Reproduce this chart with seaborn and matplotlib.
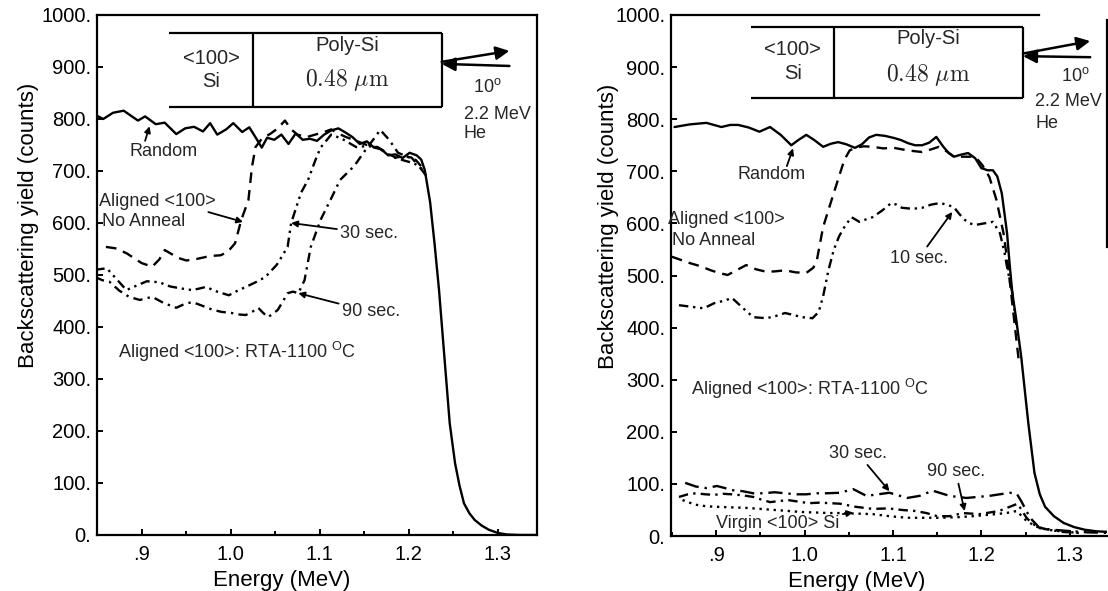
import matplotlib
matplotlib.use("Agg")
import matplotlib.pyplot as plt
import seaborn as sns
from matplotlib.ticker import FixedLocator, FuncFormatter, MultipleLocator

sns.set_theme(style="ticks")
plt.rcParams["font.family"] = ["Liberation Sans", "DejaVu Sans"]
plt.rcParams["mathtext.fontset"] = "custom"
plt.rcParams["mathtext.rm"] = "Liberation Sans"
plt.rcParams["mathtext.it"] = "Liberation Sans:italic"

# ---------------- data: energy (MeV) and yield (counts) ----------------
# Left panel (no anneal, 30 s and 90 s RTA)
L_random_e = [0.848, 0.857, 0.868, 0.880, 0.890, 0.896, 0.904, 0.916, 0.926, 0.939, 0.949,
              0.959, 0.969, 0.977, 0.985, 0.995, 1.003, 1.013, 1.021, 1.029, 1.035, 1.041,
              1.049, 1.057, 1.065, 1.073, 1.081, 1.089, 1.097, 1.105, 1.113, 1.121, 1.129,
              1.137, 1.145, 1.153, 1.161, 1.169, 1.177, 1.185, 1.193, 1.201, 1.209, 1.214,
              1.218, 1.224, 1.229, 1.234, 1.240, 1.246, 1.252, 1.257, 1.262, 1.268, 1.274,
              1.282, 1.290, 1.300, 1.310, 1.325, 1.344]
L_random_c = [808, 800, 812, 816, 804, 797, 805, 790, 793, 771, 782,
              785, 776, 792, 770, 780, 792, 775, 784, 762, 745, 764,
              760, 770, 752, 772, 760, 762, 758, 770, 778, 782, 774,
              765, 752, 757, 745, 742, 730, 732, 725, 735, 730, 722,
              702, 640, 560, 471, 343, 215, 138, 95, 61, 42, 29,
              18, 10, 4, 1, 0, 0]

L_noanneal_e = [0.860, 0.872, 0.884, 0.900, 0.912, 0.920, 0.926, 0.934, 0.941, 0.950, 0.957,
                0.965, 0.973, 0.981, 0.989, 0.997, 1.005, 1.012, 1.020, 1.024, 1.028, 1.035,
                1.045, 1.053, 1.061, 1.068, 1.075, 1.085, 1.095, 1.105, 1.113, 1.121, 1.130,
                1.141, 1.153, 1.165, 1.175, 1.185, 1.195, 1.203, 1.212, 1.220]
L_noanneal_c = [554, 551, 541, 523, 516, 530, 548, 540, 533, 528, 529,
                532, 535, 537, 538, 545, 561, 606, 644, 708, 746, 762,
                772, 782, 797, 780, 770, 765, 770, 775, 780, 772, 765,
                758, 750, 745, 735, 726, 728, 726, 708, 690]

L_30s_e = [0.848, 0.861, 0.872, 0.883, 0.895, 0.906, 0.920, 0.932, 0.945, 0.957, 0.965,
           0.972, 0.985, 0.998, 1.008, 1.017, 1.028, 1.039, 1.052, 1.064, 1.068, 1.079,
           1.087, 1.095, 1.101, 1.113, 1.125, 1.141, 1.153, 1.165, 1.182, 1.195, 1.206,
           1.218]
L_30s_c = [510, 513, 492, 471, 480, 488, 486, 478, 474, 471, 474,
           477, 468, 461, 470, 477, 486, 496, 520, 554, 600, 658,
           683, 720, 745, 770, 762, 746, 748, 746, 727, 720, 715,
           700]

L_90s_e = [0.848, 0.856, 0.864, 0.875, 0.886, 0.898, 0.905, 0.912, 0.925, 0.939, 0.948,
           0.957, 0.968, 0.980, 0.990, 1.001, 1.010, 1.017, 1.025, 1.031, 1.036, 1.042,
           1.048, 1.053, 1.059, 1.064, 1.070, 1.076, 1.083, 1.090, 1.101, 1.112, 1.123,
           1.139, 1.150, 1.160, 1.168, 1.178, 1.188, 1.198, 1.208, 1.216]
L_90s_c = [496, 490, 487, 470, 458, 452, 455, 458, 446, 437, 444,
           448, 441, 433, 429, 427, 424, 423, 430, 437, 428, 419,
           426, 433, 450, 465, 468, 465, 490, 554, 606, 644, 683,
           710, 737, 760, 779, 760, 735, 728, 721, 705]

# Right panel (no anneal, 10 s, 30 s, 90 s RTA and virgin crystal)
R_random_e = [0.853, 0.870, 0.889, 0.906, 0.916, 0.925, 0.937, 0.949, 0.961, 0.973, 0.985,
              0.993, 1.002, 1.011, 1.021, 1.030, 1.038, 1.047, 1.057, 1.065, 1.073, 1.081,
              1.091, 1.101, 1.109, 1.117, 1.125, 1.133, 1.141, 1.149, 1.157, 1.163, 1.169,
              1.177, 1.185, 1.193, 1.200, 1.207, 1.213, 1.218, 1.223, 1.226, 1.229, 1.232,
              1.235, 1.239, 1.245, 1.253, 1.260, 1.266, 1.272, 1.282, 1.293, 1.305, 1.317,
              1.330, 1.342]
R_random_c = [785, 790, 793, 785, 789, 789, 784, 776, 785, 770, 750,
              760, 770, 760, 747, 753, 756, 752, 745, 752, 765, 770,
              768, 764, 760, 754, 750, 750, 755, 766, 747, 735, 728,
              732, 735, 725, 706, 702, 702, 690, 658, 620, 581, 520,
              466, 420, 344, 217, 121, 80, 56, 38, 25, 17, 12,
              9, 8]

R_noanneal_e = [0.850, 0.860, 0.870, 0.882, 0.894, 0.903, 0.913, 0.923, 0.934, 0.945, 0.957,
                0.967, 0.978, 0.990, 1.002, 1.010, 1.014, 1.021, 1.033, 1.045, 1.051, 1.057,
                1.067, 1.077, 1.089, 1.101, 1.117, 1.133, 1.143, 1.152, 1.161, 1.169, 1.181,
                1.193, 1.201, 1.209, 1.217, 1.225, 1.230, 1.234, 1.238, 1.242]
R_noanneal_c = [536, 530, 524, 518, 510, 505, 501, 510, 520, 512, 507,
                508, 510, 506, 505, 515, 530, 593, 658, 722, 740, 745,
                748, 747, 744, 745, 740, 737, 742, 747, 738, 728, 728,
                728, 712, 689, 645, 581, 520, 460, 400, 340]

R_10s_e = [0.858, 0.872, 0.886, 0.898, 0.910, 0.918, 0.930, 0.942, 0.957, 0.967, 0.978,
           0.988, 0.997, 1.009, 1.016, 1.021, 1.027, 1.033, 1.039, 1.045, 1.053, 1.062,
           1.070, 1.077, 1.088, 1.098, 1.104, 1.110, 1.122, 1.133, 1.143, 1.153, 1.161,
           1.169, 1.175, 1.181, 1.187, 1.193, 1.203, 1.213, 1.221, 1.226, 1.229, 1.235,
           1.240]
R_10s_c = [443, 440, 437, 447, 452, 457, 438, 420, 418, 422, 428,
           424, 420, 418, 430, 460, 510, 549, 575, 593, 612, 603,
           608, 612, 625, 639, 636, 630, 628, 630, 636, 639, 636,
           631, 618, 607, 600, 597, 600, 603, 581, 545, 516, 466,
           400]

R_30s_e = [0.865, 0.877, 0.889, 0.901, 0.910, 0.918, 0.930, 0.942, 0.954, 0.966, 0.978,
           0.990, 1.002, 1.014, 1.025, 1.040, 1.055, 1.070, 1.083, 1.096, 1.116, 1.130,
           1.145, 1.164, 1.183, 1.209, 1.232, 1.240, 1.245, 1.255, 1.266, 1.280, 1.296,
           1.320, 1.342]
R_30s_c = [102, 95, 92, 96, 92, 88, 86, 82, 82, 84, 82,
           80, 80, 82, 82, 83, 90, 77, 80, 83, 73, 77,
           87, 77, 73, 77, 83, 81, 67, 35, 15, 12, 10,
           7, 6]

R_90s_e = [0.858, 0.868, 0.877, 0.888, 0.898, 0.908, 0.918, 0.930, 0.942, 0.951, 0.961,
           0.971, 0.981, 0.993, 1.005, 1.017, 1.029, 1.040, 1.058, 1.077, 1.095, 1.110,
           1.125, 1.138, 1.150, 1.164, 1.179, 1.198, 1.220, 1.235, 1.241, 1.251, 1.258,
           1.270, 1.290, 1.310]
R_90s_c = [75, 80, 82, 80, 79, 81, 80, 78, 75, 70, 65,
           67, 69, 66, 63, 64, 63, 62, 56, 52, 53, 50,
           48, 44, 38, 38, 44, 42, 48, 58, 62, 35, 23,
           14, 8, 6]

R_virgin_e = [0.862, 0.870, 0.877, 0.889, 0.901, 0.917, 0.934, 0.950, 0.966, 0.982, 0.997,
              1.013, 1.029, 1.040, 1.058, 1.077, 1.096, 1.116, 1.135, 1.153, 1.172, 1.190,
              1.210, 1.228, 1.240, 1.251, 1.262, 1.275, 1.295, 1.310]
R_virgin_c = [69, 64, 60, 57, 56, 55, 54, 52, 50, 48, 46,
              45, 44, 44, 43, 42, 38, 35, 35, 35, 36, 38,
              41, 44, 48, 29, 18, 12, 8, 6]

Y_TICKS = [0, 100, 200, 300, 400, 500, 600, 700, 800, 900, 1000]
X_TICKS = [0.9, 1.0, 1.1, 1.2, 1.3]
X_TICK_LABELS = [".9", "1.0", "1.1", "1.2", "1.3"]

# ---------------- styles ----------------
LW = 1.7
SOLID = "-"
DASHED = (0, (4.5, 3.0))
DASH_DOT = (0, (4.0, 2.2, 1.0, 2.2))
DASH_DOT_DOT = (0, (4.0, 2.0, 1.0, 2.0, 1.0, 2.0))
LONG_DASH_DOT = (0, (6.0, 2.5, 1.0, 2.5))
DOTTED = (0, (1.0, 2.0))

fig = plt.figure(figsize=(11.08, 5.91), dpi=100)
ax_l = fig.add_axes([97 / 1108, 56 / 591, 440 / 1108, 520 / 591])
ax_r = fig.add_axes([671 / 1108, 55 / 591, 436 / 1108, 521 / 591])


def curve(ax, e, c, ls):
    sns.lineplot(x=e, y=c, ax=ax, color="black", linewidth=LW, linestyle=ls,
                 estimator=None, sort=False)


def style_axes(ax, xlim):
    ax.set_xlim(*xlim)
    ax.set_ylim(0, 1000)
    ax.xaxis.set_major_locator(FixedLocator(X_TICKS))
    ax.set_xticklabels(X_TICK_LABELS)
    ax.xaxis.set_minor_locator(MultipleLocator(0.05))
    ax.yaxis.set_major_locator(FixedLocator(Y_TICKS))
    ax.yaxis.set_major_formatter(FuncFormatter(lambda v, p: f"{int(round(v))}."))
    ax.tick_params(axis="both", which="both", direction="in", color="black",
                   width=1.4, labelsize=14.5, labelcolor="black")
    ax.tick_params(axis="x", which="major", length=4, pad=7)
    ax.tick_params(axis="x", which="minor", length=3)
    ax.tick_params(axis="y", length=4, pad=4)
    ax.set_xlabel("Energy (MeV)", fontsize=16, color="black")
    ax.set_ylabel("Backscattering yield (counts)", fontsize=16, color="black")
    for s in ax.spines.values():
        s.set_color("black")
        s.set_linewidth(1.6)
    ax.set_facecolor("white")


def inset_box(ax, x0, x1, xdiv, y0, y1, txt):
    kw = dict(color="black", lw=1.6, solid_capstyle="butt")
    ax.plot([x0, x1], [y1, y1], **kw)
    ax.plot([x0, x1], [y0, y0], **kw)
    ax.plot([x1, x1], [y0, y1], **kw)
    ax.plot([xdiv, xdiv], [y0, y1], **kw)
    xa = (x0 + xdiv) / 2
    xb = (xdiv + x1) / 2
    ax.text(xa, txt[0], "<100>", ha="center", va="center", fontsize=14.5)
    ax.text(xa, txt[1], "Si", ha="center", va="center", fontsize=14.5)
    ax.text(xb, txt[2], "Poly-Si", ha="center", va="center", fontsize=14.5)
    ax.text(xb, txt[3], r"$0.48\ \mu\mathrm{m}$", ha="center", va="center",
            fontsize=17, math_fontfamily="cm")


def beam(ax, x_box, x_end, y_in_start, y_in_end, y_out_start, y_out_end):
    big = dict(arrowstyle="-|>", color="black", lw=1.8, mutation_scale=20,
               shrinkA=0, shrinkB=0)
    ax.annotate("", xy=(x_box, y_in_end), xytext=(x_end, y_in_start), arrowprops=big)
    ax.annotate("", xy=(x_end, y_out_end), xytext=(x_box, y_out_start), arrowprops=big)


def pointer(ax, text, xy, xytext, **kw):
    ax.annotate(text, xy=xy, xytext=xytext, fontsize=13,
                arrowprops=dict(arrowstyle="-|>", color="black", lw=1.3,
                                mutation_scale=9, shrinkA=0, shrinkB=0), **kw)


# ---------------- left panel ----------------
ax = ax_l
curve(ax, L_90s_e, L_90s_c, DASH_DOT)
curve(ax, L_30s_e, L_30s_c, DASH_DOT_DOT)
curve(ax, L_noanneal_e, L_noanneal_c, DASHED)
curve(ax, L_random_e, L_random_c, SOLID)
style_axes(ax, (0.85, 1.344))
ax.yaxis.set_label_coords(-0.132, 0.596)
ax.xaxis.set_label_coords(0.42, -0.067)

inset_box(ax, 0.931, 1.237, 1.025, 823, 965, (917, 872, 942, 875))
beam(ax, 1.237, 1.313, 902, 906, 910, 931)
ax.text(1.272, 862, "10$^{\\rm o}$", fontsize=13, va="center")
ax.text(1.262, 808, "2.2 MeV", fontsize=13, va="center")
ax.text(1.262, 772, "He", fontsize=13, va="center")

ax.text(0.925, 737, "Random", fontsize=13, ha="center", va="center")
ax.annotate("", xy=(0.909, 786), xytext=(0.904, 758),
            arrowprops=dict(arrowstyle="-|>", color="black", lw=1.3,
                            mutation_scale=9, shrinkA=0, shrinkB=0))
ax.text(0.852, 641, "Aligned <100>", fontsize=13, va="center")
ax.text(0.856, 602, "No Anneal", fontsize=13, va="center")
ax.annotate("", xy=(1.014, 602), xytext=(0.975, 621),
            arrowprops=dict(arrowstyle="-|>", color="black", lw=1.3,
                            mutation_scale=9, shrinkA=0, shrinkB=0))
pointer(ax, "30 sec.", xy=(1.068, 600), xytext=(1.123, 580), va="center")
pointer(ax, "90 sec.", xy=(1.076, 465), xytext=(1.125, 429), va="center")
ax.text(0.874, 352, "Aligned <100>: RTA-1100 $^{\\rm O}$C", fontsize=13, va="center")

# ---------------- right panel ----------------
ax = ax_r
curve(ax, R_virgin_e, R_virgin_c, DOTTED)
curve(ax, R_90s_e, R_90s_c, DASH_DOT)
curve(ax, R_30s_e, R_30s_c, LONG_DASH_DOT)
curve(ax, R_10s_e, R_10s_c, DASH_DOT_DOT)
curve(ax, R_noanneal_e, R_noanneal_c, DASHED)
curve(ax, R_random_e, R_random_c, SOLID)
style_axes(ax, (0.849, 1.342))
ax.spines["top"].set_bounds(0.849, 1.265)
ax.spines["right"].set_bounds(555, 990)
ax.yaxis.set_label_coords(-0.119, 0.594)
ax.xaxis.set_label_coords(0.427, -0.067)

inset_box(ax, 0.940, 1.247, 1.033, 841, 977, (933, 888, 955, 885))
beam(ax, 1.247, 1.323, 919, 921, 926, 950)
ax.text(1.290, 882, "10$^{\\rm o}$", fontsize=13, va="center")
ax.text(1.261, 834, "2.2 MeV", fontsize=13, va="center")
ax.text(1.261, 792, "He", fontsize=13, va="center")

ax.text(0.963, 693, "Random", fontsize=13, ha="center", va="center")
ax.annotate("", xy=(0.987, 744), xytext=(0.980, 710),
            arrowprops=dict(arrowstyle="-|>", color="black", lw=1.3,
                            mutation_scale=9, shrinkA=0, shrinkB=0))
ax.text(0.846, 607, "Aligned <100>", fontsize=13, va="center")
ax.text(0.850, 568, "No Anneal", fontsize=13, va="center")
pointer(ax, "10 sec.", xy=(1.167, 622), xytext=(1.129, 533), ha="center", va="center")
ax.text(0.872, 283, "Aligned <100>: RTA-1100 $^{\\rm O}$C", fontsize=13, va="center")
pointer(ax, "30 sec.", xy=(1.096, 86), xytext=(1.060, 159), ha="center", va="center")
pointer(ax, "90 sec.", xy=(1.181, 48), xytext=(1.171, 123), ha="center", va="center")
pointer(ax, "Virgin <100> Si", xy=(1.055, 45), xytext=(0.900, 24), va="center")

fig.savefig("out.png", dpi=100, facecolor="white")
